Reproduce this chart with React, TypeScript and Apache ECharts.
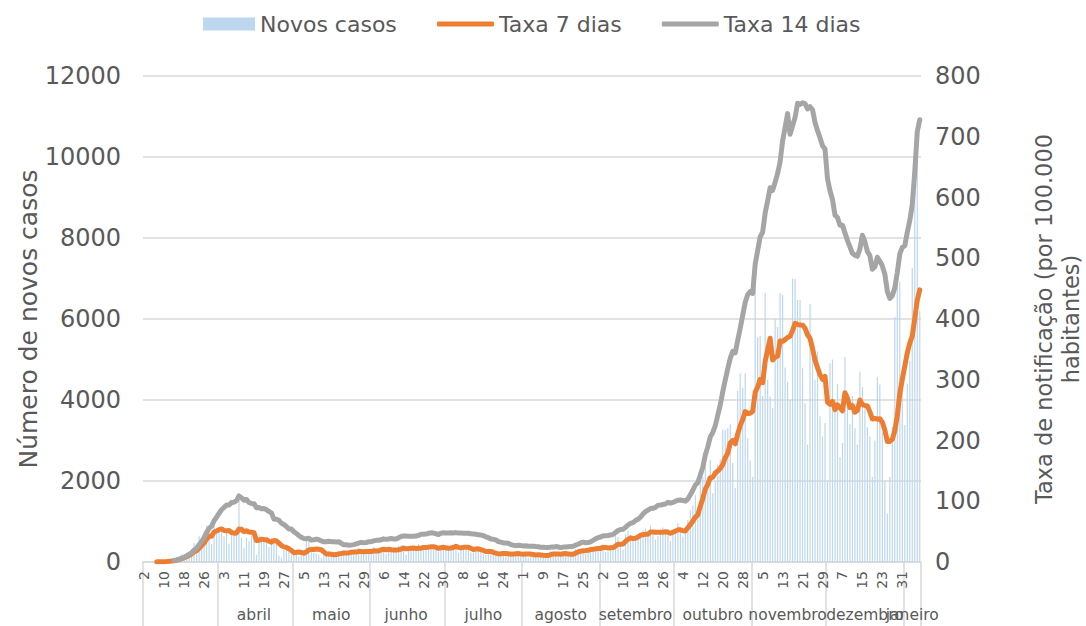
import React, { useEffect, useRef } from "react";
import * as echarts from "echarts";

// ---------- DATA ----------
const startDate = "2020-03-02";

const monthNames = [
  "janeiro", "fevereiro", "março", "abril", "maio", "junho",
  "julho", "agosto", "setembro", "outubro", "novembro", "dezembro",
];
const hiddenMonthLabels = ["2020-03"];

const legendNames = ["Novos casos", "Taxa 7 dias", "Taxa 14 dias"];

const leftAxisTicks = [0, 2000, 4000, 6000, 8000, 10000, 12000];
const rightAxisTicks = [0, 100, 200, 300, 400, 500, 600, 700, 800];

// Número de novos casos (daily)
const newCases = [
  2, 2, 3, 4, 8, 9, 9, 11, 18, 19,
  34, 57, 76, 86, 117, 194, 143, 235, 260, 320,
  460, 302, 633, 549, 724, 902, 792, 446, 1035, 808,
  783, 852, 638, 754, 452, 712, 699, 815, 1516, 598,
  349, 598, 514, 643, 750, 181, 663, 521, 516, 516,
  371, 603, 444, 595, 163, 92, 295, 305, 353, 173,
  181, 234, 138, 242, 178, 553, 533, 264, 226, 208,
  187, 98, 219, 173, 264, 165, 135, 203, 226, 252,
  288, 271, 163, 260, 230, 219, 350, 304, 195, 200,
  297, 195, 366, 331, 300, 349, 320, 192, 295, 284,
  294, 288, 404, 417, 382, 181, 319, 346, 309, 349,
  441, 392, 311, 301, 425, 367, 357, 311, 256, 404,
  380, 328, 313, 374, 413, 443, 229, 295, 418, 340,
  361, 232, 226, 346, 312, 275, 202, 182, 263, 213,
  181, 198, 135, 227, 233, 232, 181, 124, 204, 195,
  264, 135, 204, 239, 106, 193, 124, 179, 200, 157,
  177, 96, 165, 286, 253, 234, 138, 133, 187, 209,
  190, 214, 236, 330, 331, 325, 295, 200, 279, 352,
  374, 401, 390, 308, 395, 252, 262, 423, 421, 646,
  620, 396, 300, 687, 770, 673, 520, 662, 613, 619,
  780, 827, 691, 899, 665, 552, 644, 744, 852, 765,
  810, 510, 737, 815, 963, 857, 627, 764, 1042, 1278,
  1394, 1646, 1249, 2072, 2101, 2608, 2100, 2520, 1700, 2000,
  2400, 2535, 3270, 3260, 3300, 3400, 2447, 1826, 4224, 4656,
  4300, 4660, 3062, 2506, 2100, 7497, 5550, 5586, 4096, 6640,
  4500, 4080, 3800, 6000, 5800, 6640, 6590, 4800, 4450, 4000,
  6994, 6990, 6470, 6470, 4790, 3920, 2900, 6370, 5280, 4500,
  5200, 3600, 3100, 3430, 2000, 4910, 5000, 3800, 4400, 2590,
  2940, 5060, 4000, 3400, 4100, 3300, 2900, 4700, 4320, 3800,
  3330, 3100, 2100, 3000, 4570, 4380, 3200, 2000, 1200, 2100,
  3336, 6050, 6960, 6920, 4426, 3384, 4400, 4960, 7259, 9927,
  10027, 6200,
];

// Taxa de notificação a 7 dias (por 100.000 habitantes)
const rate7 = [
  null, null, null, null, null, 0.3, 0.4, 0.5, 0.6, 0.8,
  1.1, 1.5, 2.2, 2.9, 4.0, 5.7, 6.9, 8.8, 10.8, 13.2,
  16.8, 18.6, 22.8, 26.8, 31.5, 37.8, 42.3, 42.2, 49.3, 51.0,
  53.3, 54.5, 52.0, 51.6, 51.7, 48.5, 47.5, 47.8, 54.2, 53.8,
  49.9, 51.3, 49.4, 48.9, 48.2, 35.3, 35.9, 37.6, 36.8, 36.8,
  34.2, 32.7, 35.3, 34.6, 31.1, 27.0, 24.9, 24.2, 21.8, 19.2,
  15.2, 15.9, 16.3, 15.8, 14.6, 16.5, 20.0, 20.8, 20.7, 21.4,
  20.9, 20.1, 16.8, 13.3, 13.3, 12.8, 12.0, 12.2, 13.4, 13.8,
  14.9, 15.0, 14.9, 16.1, 16.4, 16.3, 17.3, 17.4, 16.7, 17.1,
  17.4, 17.1, 18.5, 18.3, 18.3, 19.8, 21.0, 19.9, 20.9, 20.1,
  19.7, 19.6, 20.2, 21.1, 23.0, 21.8, 22.2, 22.7, 22.9, 22.4,
  22.6, 22.7, 24.0, 23.8, 24.5, 25.1, 25.2, 23.9, 22.6, 23.5,
  24.3, 23.3, 22.8, 23.0, 24.0, 25.8, 24.1, 23.3, 24.1, 24.4,
  24.3, 22.5, 20.4, 21.5, 21.7, 20.3, 19.0, 17.2, 17.5, 17.4,
  15.8, 14.7, 13.3, 13.6, 14.1, 13.8, 13.5, 12.9, 13.0, 13.6,
  13.9, 13.0, 12.7, 13.3, 13.1, 13.0, 12.3, 11.5, 12.1, 11.6,
  11.0, 10.9, 10.7, 12.2, 13.0, 13.3, 13.1, 12.7, 13.6, 14.0,
  13.0, 12.7, 12.7, 14.6, 16.5, 17.8, 18.7, 18.7, 19.4, 20.5,
  20.9, 21.6, 22.2, 22.4, 24.3, 24.0, 23.1, 23.6, 23.8, 26.3,
  29.3, 29.3, 29.8, 33.9, 37.3, 39.7, 38.5, 38.9, 41.0, 44.1,
  45.0, 45.6, 45.7, 49.4, 49.5, 48.9, 49.1, 48.8, 49.0, 49.7,
  48.9, 47.3, 49.1, 50.8, 52.9, 53.0, 51.6, 51.2, 56.4, 61.6,
  67.2, 73.9, 77.7, 91.7, 104.7, 119.9, 127.9, 138.8, 139.3, 146.6,
  149.8, 154.0, 160.4, 171.7, 179.3, 195.8, 200.1, 194.5, 210.9, 224.4,
  234.5, 247.7, 244.4, 245.0, 247.7, 279.4, 288.1, 300.6, 295.1, 329.9,
  349.2, 368.4, 332.5, 336.9, 339.0, 363.7, 363.2, 366.1, 369.7, 371.7,
  381.3, 392.9, 391.2, 390.0, 389.9, 384.8, 374.1, 368.1, 351.5, 332.3,
  320.0, 308.4, 300.5, 305.6, 263.2, 259.6, 264.5, 250.9, 258.6, 253.7,
  248.9, 278.6, 269.8, 254.3, 257.2, 246.5, 249.5, 266.6, 259.4, 257.5,
  256.8, 247.1, 235.4, 236.4, 235.1, 235.7, 229.9, 217.0, 198.5, 198.5,
  201.8, 216.2, 241.2, 277.3, 300.9, 322.1, 344.4, 360.2, 371.9, 400.7,
  430.9, 448.0,
];

// Taxa de notificação a 14 dias (por 100.000 habitantes)
const rate14 = [
  null, null, null, null, null, null, null, null, null, null,
  null, null, 2.5, 3.3, 4.5, 6.3, 7.7, 9.9, 12.3, 15.4,
  19.7, 22.6, 28.5, 33.7, 40.3, 48.6, 55.5, 59.0, 67.9, 73.8,
  80.1, 86.0, 89.8, 93.9, 93.9, 97.8, 98.5, 101.1, 108.7, 105.8,
  101.5, 103.0, 97.9, 96.4, 96.0, 89.5, 89.7, 87.5, 88.1, 86.2,
  83.1, 80.9, 70.6, 70.5, 68.7, 63.8, 61.7, 58.4, 54.5, 54.5,
  49.8, 47.0, 43.3, 40.7, 38.8, 38.3, 39.2, 36.0, 36.6, 37.7,
  36.7, 34.7, 33.3, 33.3, 34.1, 33.5, 33.4, 33.1, 33.5, 30.6,
  28.2, 28.3, 27.7, 28.1, 28.6, 29.7, 31.1, 32.3, 31.7, 32.0,
  33.5, 33.5, 34.8, 35.6, 35.7, 36.5, 38.1, 37.3, 38.0, 38.6,
  38.0, 37.9, 40.0, 42.1, 42.9, 42.7, 42.3, 42.4, 42.5, 42.6,
  43.7, 45.7, 45.8, 46.0, 47.2, 48.0, 47.6, 46.5, 45.3, 47.5,
  48.1, 47.8, 47.9, 48.2, 47.9, 48.4, 47.6, 47.6, 47.4, 47.2,
  47.3, 46.5, 46.2, 45.6, 45.0, 44.4, 43.4, 41.5, 40.0, 37.8,
  37.3, 36.4, 33.6, 32.6, 31.3, 31.3, 30.9, 28.7, 27.7, 26.9,
  27.5, 27.1, 26.5, 26.8, 26.0, 26.0, 25.9, 25.4, 25.1, 24.3,
  24.3, 24.0, 23.7, 24.5, 24.5, 25.4, 24.7, 23.7, 24.5, 24.7,
  25.2, 25.7, 26.0, 27.7, 29.2, 31.4, 32.7, 31.7, 32.1, 33.2,
  35.5, 38.1, 40.0, 41.1, 43.0, 43.4, 43.6, 44.5, 45.4, 48.5,
  51.7, 53.6, 53.8, 57.0, 60.9, 63.5, 64.8, 68.2, 70.3, 73.9,
  78.9, 82.9, 85.4, 87.9, 88.4, 89.9, 93.2, 93.8, 94.6, 95.4,
  98.3, 96.8, 98.0, 99.9, 101.7, 102.0, 101.3, 100.1, 103.7, 110.7,
  118.0, 126.8, 130.7, 143.3, 155.9, 176.3, 189.5, 206.0, 213.2, 224.3,
  241.5, 258.7, 280.3, 299.6, 318.1, 335.1, 346.7, 344.3, 364.9, 384.8,
  406.2, 427.0, 440.2, 445.1, 442.2, 490.3, 512.5, 535.1, 542.8, 574.3,
  594.2, 616.1, 611.9, 625.0, 639.6, 658.8, 693.1, 715.3, 738.1, 704.2,
  718.2, 731.9, 754.9, 753.2, 756.0, 754.5, 745.8, 749.4, 744.4, 723.5,
  710.0, 698.3, 685.3, 679.7, 631.3, 611.1, 596.8, 570.9, 567.0, 554.2,
  554.5, 541.8, 529.4, 518.8, 508.1, 505.1, 503.2, 515.5, 538.0, 527.3,
  511.1, 504.3, 481.9, 485.9, 501.7, 495.1, 487.4, 473.8, 445.6, 433.9,
  438.2, 451.3, 476.9, 507.2, 517.9, 520.6, 542.9, 562.0, 588.1, 641.9,
  708.2, 728.0,
];

// ---------- derived axis helpers ----------
const dates: string[] = (() => {
  const [y, m, d] = startDate.split("-").map(Number);
  const t0 = Date.UTC(y, m - 1, d);
  return newCases.map((_, i) => new Date(t0 + i * 86400000).toISOString().slice(0, 10));
})();

const monthStartSet = new Set<number>();
// month labels split over two label rows (alternating) so neighbours may overlap, as in the original
const monthMidMapA = new Map<number, string>();
const monthMidMapB = new Map<number, string>();
(() => {
  const groups: Record<string, number[]> = {};
  const order: string[] = [];
  dates.forEach((ds, i) => {
    const key = ds.slice(0, 7);
    if (!groups[key]) { groups[key] = []; order.push(key); monthStartSet.add(i); }
    groups[key].push(i);
  });
  let k = 0;
  order.forEach((key) => {
    if (hiddenMonthLabels.includes(key)) return;
    const idx = groups[key];
    const mid = Math.floor((idx[0] + idx[idx.length - 1]) / 2);
    const name = monthNames[Number(key.slice(5, 7)) - 1];
    (k % 2 === 0 ? monthMidMapA : monthMidMapB).set(mid, name);
    k++;
  });
})();

const FONT = "DejaVu Sans";
const TEXT = "#595959";
const GRID = "#d9d9d9";

function monthAxis(map: Map<number, string>) {
  return {
    type: "category",
    data: dates,
    position: "bottom",
    boundaryGap: true,
    axisLine: { show: false },
    axisTick: { show: false },
    splitLine: { show: false },
    axisLabel: {
      interval: (i: number) => map.has(i),
      margin: 45,
      fontSize: 15.5,
      color: TEXT,
      fontFamily: FONT,
      hideOverlap: false,
      showMinLabel: true,
      showMaxLabel: true,
      formatter: (_v: string, i: number) => map.get(i) ?? "",
    },
  };
}

export default function App() {
  const ref = useRef<HTMLDivElement>(null);
  useEffect(() => {
    if (!ref.current) return;
    const chart = echarts.init(ref.current, undefined, { renderer: "svg" });
    chart.setOption({
      animation: false,
      backgroundColor: "#ffffff",
      textStyle: { fontFamily: FONT },
      legend: [
        {
          data: [legendNames[0]],
          left: 198,
          top: 8,
          icon: "rect",
          itemWidth: 52,
          itemHeight: 13,
          textStyle: { fontSize: 22, color: TEXT, fontFamily: FONT },
          selectedMode: false,
        },
        {
          data: [legendNames[1], legendNames[2]],
          left: 432,
          top: 8,
          icon: "roundRect",
          itemWidth: 57,
          itemHeight: 5,
          itemGap: 40,
          textStyle: { fontSize: 22, color: TEXT, fontFamily: FONT },
          selectedMode: false,
        },
      ],
      grid: {
        left: 143,
        right: 165,
        top: 76,
        bottom: 64,
        containLabel: false,
        outerBoundsMode: "none",
      },
      xAxis: [
        {
          type: "category",
          data: dates,
          position: "bottom",
          boundaryGap: true,
          axisLine: { show: true, lineStyle: { color: GRID, width: 1.5 } },
          axisTick: {
            show: true,
            interval: (i: number) => monthStartSet.has(i),
            length: 64,
            lineStyle: { color: GRID, width: 1.5 },
          },
          axisLabel: {
            interval: 7,
            rotate: 90,
            margin: 9,
            fontSize: 14,
            color: TEXT,
            fontFamily: FONT,
            hideOverlap: false,
            formatter: (v: string) => String(Number(v.slice(8, 10))),
          },
          splitLine: { show: false },
        },
        monthAxis(monthMidMapA),
        monthAxis(monthMidMapB),
      ],
      yAxis: [
        {
          type: "value",
          position: "left",
          min: leftAxisTicks[0],
          max: leftAxisTicks[leftAxisTicks.length - 1],
          interval: leftAxisTicks[1] - leftAxisTicks[0],
          name: "Número de novos casos",
          nameLocation: "middle",
          nameRotate: 90,
          nameGap: 102,
          nameMoveOverlap: false,
          nameTextStyle: { fontSize: 25, color: TEXT, fontFamily: FONT },
          axisLine: { show: false },
          axisTick: { show: false },
          axisLabel: {
            margin: 22,
            fontSize: 24,
            color: TEXT,
            fontFamily: FONT,
            formatter: (v: number) => String(v),
          },
          splitLine: { show: true, lineStyle: { color: GRID, width: 1.5 } },
        },
        {
          type: "value",
          position: "right",
          min: rightAxisTicks[0],
          max: rightAxisTicks[rightAxisTicks.length - 1],
          interval: rightAxisTicks[1] - rightAxisTicks[0],
          name: "Taxa de notificação (por 100.000\nhabitantes)",
          nameLocation: "middle",
          nameRotate: 90,
          nameGap: 109,
          nameMoveOverlap: false,
          nameTextStyle: { fontSize: 22.5, color: TEXT, fontFamily: FONT, lineHeight: 27, align: "center" },
          axisLine: { show: false },
          axisTick: { show: false },
          axisLabel: {
            margin: 14,
            fontSize: 24,
            color: TEXT,
            fontFamily: FONT,
            formatter: (v: number) => String(v),
          },
          splitLine: { show: false },
        },
      ],
      series: [
        {
          name: legendNames[0],
          type: "bar",
          xAxisIndex: 0,
          yAxisIndex: 0,
          data: newCases,
          barWidth: 1.2,
          itemStyle: { color: "#bdd7ee" },
        },
        {
          name: legendNames[1],
          type: "line",
          xAxisIndex: 0,
          yAxisIndex: 1,
          data: rate7,
          symbol: "none",
          showSymbol: false,
          lineStyle: { color: "#ed7d31", width: 5, cap: "round", join: "round" },
          itemStyle: { color: "#ed7d31" },
        },
        {
          name: legendNames[2],
          type: "line",
          xAxisIndex: 0,
          yAxisIndex: 1,
          data: rate14,
          symbol: "none",
          showSymbol: false,
          lineStyle: { color: "#a5a5a5", width: 5, cap: "round", join: "round" },
          itemStyle: { color: "#a5a5a5" },
        },
      ],
    });
    return () => chart.dispose();
  }, []);
  return (
    <div
      ref={ref}
      style={{ position: "absolute", left: 0, top: 0, width: 1086, height: 626, background: "#fff" }}
    />
  );
}
